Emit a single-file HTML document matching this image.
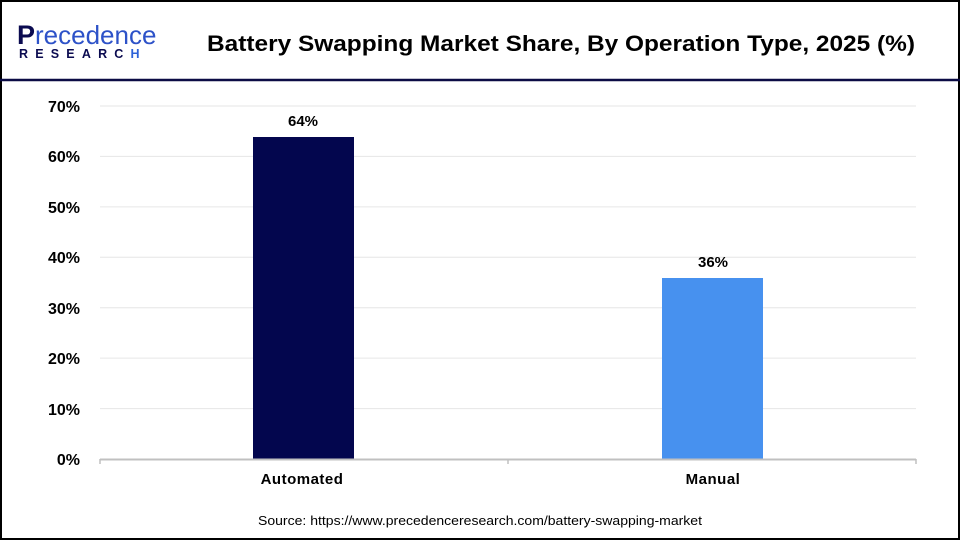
<!DOCTYPE html>
<html><head><style>
body{margin:0;width:960px;height:540px;overflow:hidden;background:#fff;font-family:"Liberation Sans",sans-serif}
</style></head><body>
<svg width="960" height="540" xmlns="http://www.w3.org/2000/svg" style="position:absolute;left:0;top:0">
<rect x="1" y="1" width="958" height="538" fill="#fff" stroke="#000" stroke-width="2"/>
<line x1="0" y1="80" x2="960" y2="80" stroke="#0b0b45" stroke-width="2.5"/>
<text x="17" y="44" font-size="27" font-weight="bold" fill="#0b0b50" font-family="Liberation Sans">P</text>
<text x="35" y="44" font-size="26" fill="#2d52c8" font-family="Liberation Sans">recedence</text>
<text x="19" y="58" font-size="12.5" font-weight="bold" fill="#0b0b50" letter-spacing="7.2" font-family="Liberation Sans">RESEARC<tspan fill="#2d62d8">H</tspan></text>
<text x="207" y="51" font-size="22" font-weight="bold" fill="#000" textLength="708" lengthAdjust="spacingAndGlyphs">Battery Swapping Market Share, By Operation Type, 2025 (%)</text>
<g stroke="#e6e6e6" stroke-width="1">
<line x1="100" y1="106" x2="916" y2="106"/><line x1="100" y1="156.4" x2="916" y2="156.4"/>
<line x1="100" y1="206.9" x2="916" y2="206.9"/><line x1="100" y1="257.3" x2="916" y2="257.3"/>
<line x1="100" y1="307.7" x2="916" y2="307.7"/><line x1="100" y1="358.1" x2="916" y2="358.1"/>
<line x1="100" y1="408.6" x2="916" y2="408.6"/>
</g>
<g font-size="16" font-weight="bold" text-anchor="end" fill="#000">
<text x="80" y="112">70%</text><text x="80" y="162">60%</text><text x="80" y="213">50%</text>
<text x="80" y="263">40%</text><text x="80" y="314">30%</text><text x="80" y="364">20%</text>
<text x="80" y="415">10%</text><text x="80" y="465">0%</text>
</g>
<rect x="253" y="137" width="101" height="322" fill="#03064e"/>
<rect x="662" y="278" width="101" height="181" fill="#4791ef"/>
<line x1="100" y1="459.5" x2="916" y2="459.5" stroke="#c0c0c0" stroke-width="2"/>
<g stroke="#c0c0c0" stroke-width="1.5"><line x1="100" y1="459" x2="100" y2="464"/><line x1="508" y1="459" x2="508" y2="464"/><line x1="916" y1="459" x2="916" y2="464"/></g>
<g font-size="15" font-weight="bold" text-anchor="middle" fill="#000">
<text x="303" y="126">64%</text><text x="713" y="267">36%</text>
<text x="302" y="484" letter-spacing="0.5">Automated</text><text x="713" y="484" letter-spacing="0.5">Manual</text>
</g>
<text x="258" y="525" font-size="13" fill="#000" textLength="444" lengthAdjust="spacingAndGlyphs">Source: https://www.precedenceresearch.com/battery-swapping-market</text>
</svg>
</body></html>
